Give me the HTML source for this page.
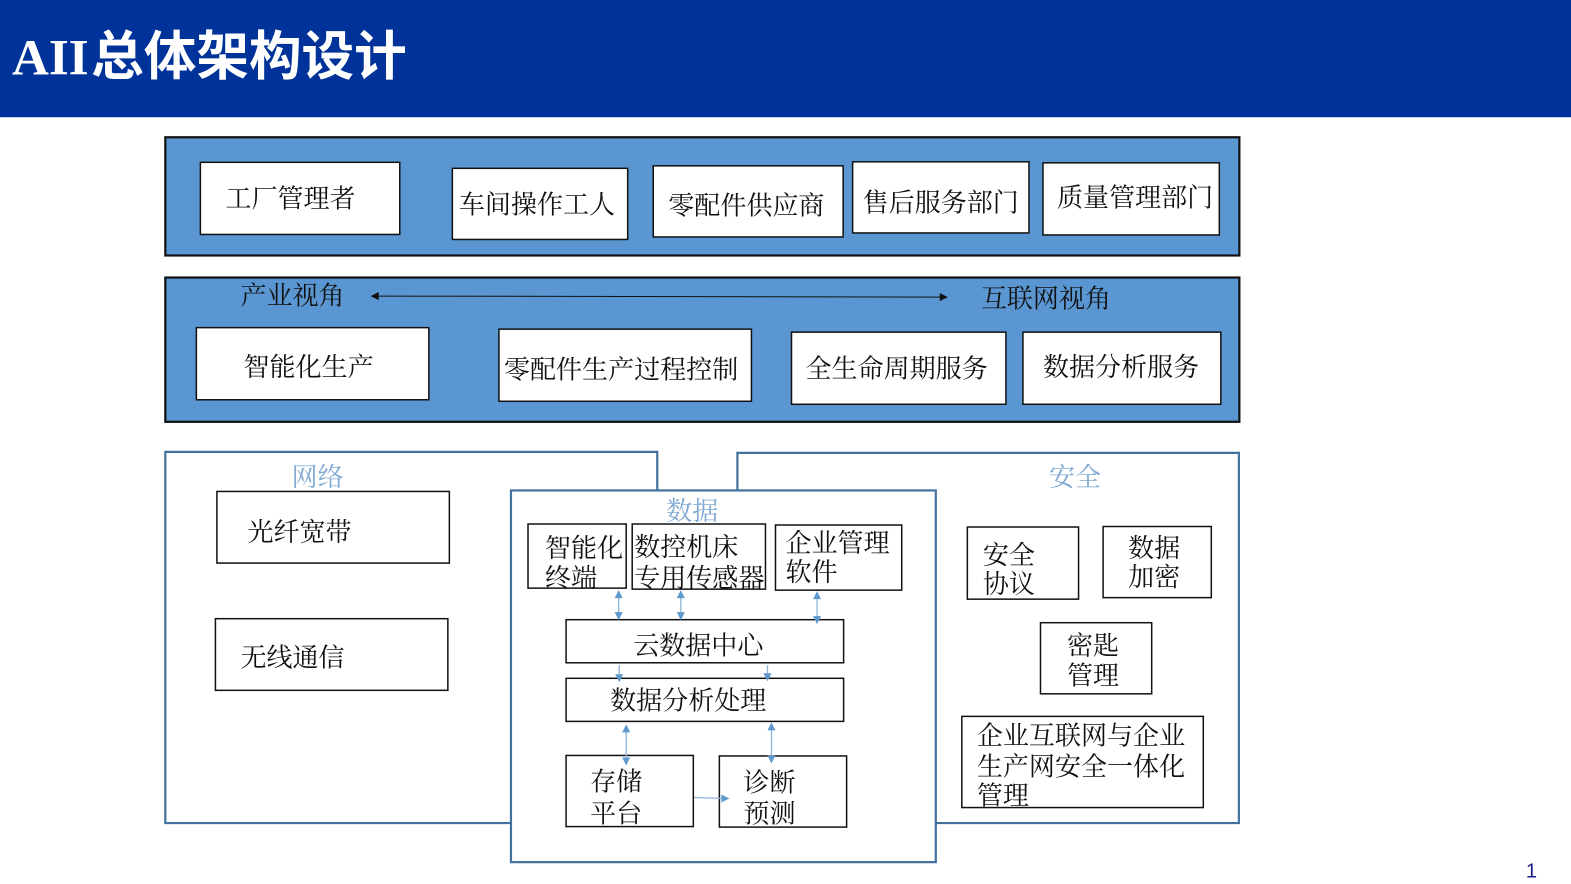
<!DOCTYPE html>
<html><head><meta charset="utf-8">
<style>
html,body{margin:0;padding:0;background:#fff;width:1571px;height:884px;overflow:hidden}
svg{display:block}
text{font-family:"Liberation Serif","Noto Serif CJK SC",serif;font-size:26px;fill:#111}
.b{fill:#fff;stroke:#111;stroke-width:1.5}
.p{fill:#5a96d2;stroke:#111;stroke-width:2.2}
.o{fill:#fff;stroke:#41719c;stroke-width:2.2}
.c{stroke:#8db4da;stroke-width:1.3;fill:none}
.h{fill:#5f98cc}
</style></head><body>
<svg width="1571" height="884" viewBox="0 0 1568 882.300" preserveAspectRatio="none" xmlns="http://www.w3.org/2000/svg">
<rect x="0" y="0" width="1568" height="117" fill="#003399"/>
<text x="12" y="74.500" style="font-family:'Liberation Serif',serif;font-weight:bold;font-size:51px;fill:#fff">AII</text>
<text x="91" y="74.500" style="font-family:'Noto Sans CJK SC',sans-serif;font-weight:bold;font-size:52.500px;fill:#fff">总体架构设计</text>

<rect class="p" x="165" y="137" width="1072" height="118"/>
<rect class="b" x="200" y="162" width="199" height="72"/>
<rect class="b" x="451.500" y="168" width="175" height="71"/>
<rect class="b" x="652" y="165.500" width="189.500" height="71"/>
<rect class="b" x="851" y="161.500" width="176" height="71"/>
<rect class="b" x="1041" y="162.500" width="176" height="72"/>
<text x="225" y="207">工厂管理者</text>
<text x="458" y="213">车间操作工人</text>
<text x="667" y="214">零配件供应商</text>
<text x="861" y="211">售后服务部门</text>
<text x="1055" y="206">质量管理部门</text>

<rect class="p" x="165" y="277" width="1072" height="144"/>
<text x="240" y="304">产业视角</text>
<text x="979" y="307">互联网视角</text>
<line x1="374" y1="295.500" x2="942" y2="296.500" stroke="#111" stroke-width="1"/>
<path d="M370 295.500l8-4v8zM946 296.500l-8-4v8z" fill="#111"/>
<rect class="b" x="196" y="327" width="232" height="72"/>
<rect class="b" x="498" y="328.500" width="252" height="72"/>
<rect class="b" x="790" y="331.500" width="214" height="72"/>
<rect class="b" x="1021" y="331.500" width="197.500" height="72"/>
<text x="243" y="375.500">智能化生产</text>
<text x="503" y="378">零配件生产过程控制</text>
<text x="804" y="377">全生命周期服务</text>
<text x="1041" y="375.500">数据分析服务</text>

<path class="o" d="M656 489V451H165V821.500H510M736 489V452H1236.500V821.500H934"/>
<text x="291" y="485" style="fill:#7fa9d2">网络</text>
<text x="1047" y="485" style="fill:#7fa9d2">安全</text>
<rect class="b" x="216.500" y="490.500" width="232" height="71.500"/>
<rect class="b" x="215" y="617.500" width="232" height="71.500"/>
<text x="247" y="540">光纤宽带</text>
<text x="240" y="665">无线通信</text>

<rect class="o" x="510" y="489.500" width="424" height="371"/>
<text x="665" y="519" style="fill:#7fa9d2">数据</text>
<rect class="b" x="527" y="523" width="98" height="64"/>
<rect class="b" x="631" y="523" width="133" height="65"/>
<rect class="b" x="774" y="524" width="126" height="65"/>
<rect class="b" x="565" y="618.500" width="277" height="43"/>
<rect class="b" x="565" y="677" width="277" height="43"/>
<rect class="b" x="565" y="754" width="127" height="71"/>
<rect class="b" x="718" y="754.500" width="127" height="71"/>
<text x="544" y="556">智能化</text>
<text x="544" y="586">终端</text>
<text x="633" y="555">数控机床</text>
<text x="633" y="586">专用传感器</text>
<text x="784" y="551">企业管理</text>
<text x="784" y="580">软件</text>
<text x="632" y="653">云数据中心</text>
<text x="609" y="708">数据分析处理</text>
<text x="589" y="789">存储</text>
<text x="589" y="821">平台</text>
<text x="742" y="790">诊断</text>
<text x="742" y="821">预测</text>

<g class="c">
<path d="M617.500 592V616M679.500 592V616M815.500 594V621M618 664V677M766 664V677M625 727V761M770 725V760M693 796L722 797"/>
</g>
<g class="h">
<path d="M617.500 589l-4 8h8zM617.500 619l-4-8h8zM679.500 589l-4 8h8zM679.500 619l-4-8h8zM815.500 590l-4 8h8zM815.500 623l-4-8h8zM618 681l-4-8h8zM766 680l-4-8h8zM625 723l-4 8h8zM625 764l-4-8h8zM770 721l-4 8h8zM770 762l-4-8h8zM728 797l-8-4v8z"/>
</g>

<rect class="b" x="965.500" y="526" width="111" height="72"/>
<rect class="b" x="1101" y="525.500" width="108" height="71"/>
<rect class="b" x="1038.500" y="621.500" width="111" height="71"/>
<rect class="b" x="960" y="715" width="241" height="91"/>
<text x="981" y="563">安全</text>
<text x="981" y="592">协议</text>
<text x="1126" y="556">数据</text>
<text x="1126" y="585">加密</text>
<text x="1065" y="653">密匙</text>
<text x="1065" y="683">管理</text>
<text x="975" y="743">企业互联网与企业</text>
<text x="975" y="774">生产网安全一体化</text>
<text x="975" y="803">管理</text>

<text x="1523" y="876" style="font-family:'Liberation Sans',sans-serif;font-size:20px;fill:#1a1a8c">1</text>
</svg>
</body></html>
